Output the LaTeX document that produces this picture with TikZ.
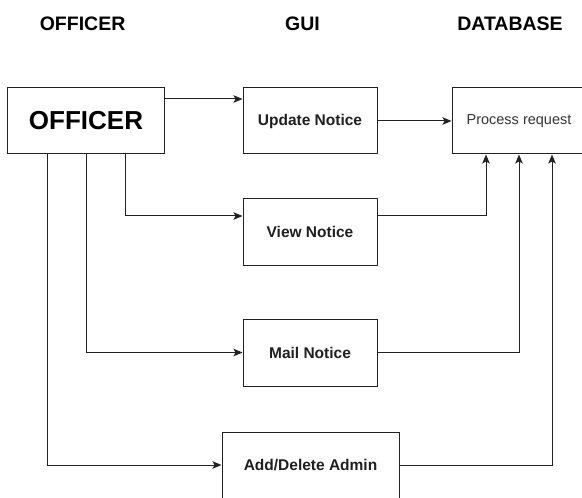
\documentclass[tikz,border=0pt]{standalone}
\usepackage{fontspec}
\setmainfont{Liberation Sans}
\usetikzlibrary{arrows.meta}
\definecolor{txtgray}{HTML}{333333}
\definecolor{linegray}{HTML}{222222}
\begin{document}
\begin{tikzpicture}[x=1bp,y=-1bp,
  box/.style={draw=linegray,line width=1bp,minimum height=66bp,inner sep=0pt,text=txtgray!60!black,font=\fontsize{15.5bp}{18bp}\selectfont\bfseries},
  header/.style={font=\fontsize{19.5bp}{22bp}\selectfont\bfseries},
  conn/.style={draw=linegray,line width=1bp,-{Stealth[length=9bp,width=7.5bp,inset=2bp]}}]
\useasboundingbox (0,0) rectangle (582,498);
\clip (0,0) rectangle (582,498);
\node[header] (h1) at (82.6,23.4) {OFFICER};
\node[header] (h2) at (302.5,23.4) {GUI};
\node[header] (h3) at (510,23.4) {DATABASE};
\node[box,minimum width=156bp,text=black,font=\fontsize{26bp}{30bp}\selectfont\bfseries] (officer) at (86,121) {OFFICER};
\node[box,minimum width=134bp] (update) at (310,121) {Update Notice};
\node[box,minimum width=134bp,font=\fontsize{14.5bp}{17bp}\selectfont,text=txtgray] (process) at (519,121) {Process request};
\node[box,minimum width=134bp] (view) at (310,232) {View Notice};
\node[box,minimum width=134bp,minimum height=67bp] (mail) at (310,352.5) {Mail Notice};
\node[box,minimum width=177bp] (add) at (310.5,465) {Add/Delete Admin};
\draw[conn] ([yshift=22bp]officer.east) -- ([yshift=22bp]update.west);
\draw[conn] (update.east) -- (process.west);
\draw[conn] ([xshift=39bp]officer.south) |- ([yshift=16bp]view.west);
\draw[conn] (officer.south) |- (mail.west);
\draw[conn] ([xshift=-39bp]officer.south) |- (add.west);
\draw[conn] ([yshift=16bp]view.east) -| ([xshift=-33bp]process.south);
\draw[conn] (mail.east) -| (process.south);
\draw[conn] (add.east) -| ([xshift=33bp]process.south);
\end{tikzpicture}
\end{document}
